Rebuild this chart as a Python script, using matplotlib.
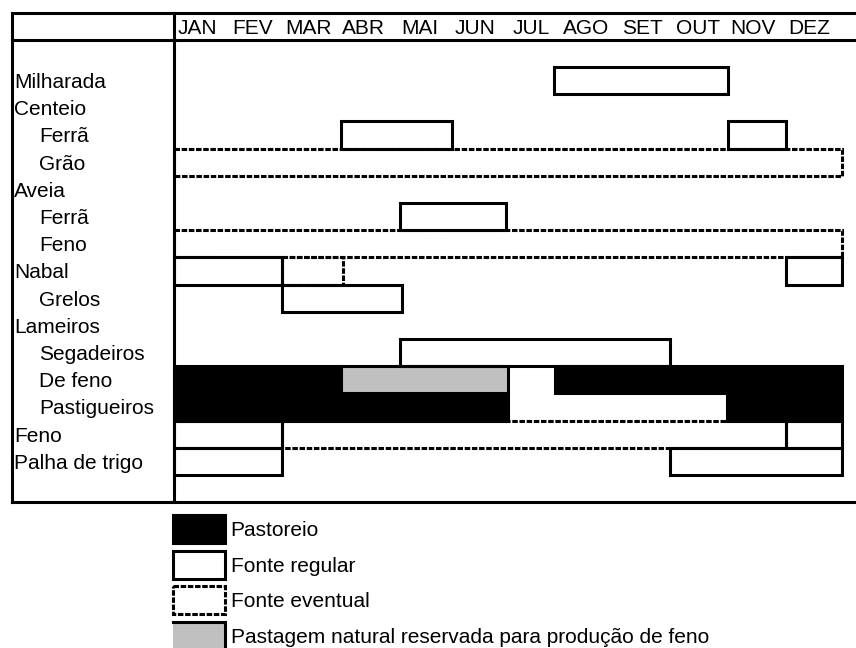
import matplotlib.pyplot as plt
from matplotlib.patches import Rectangle

plt.rcParams['font.family'] = ['Liberation Sans', 'DejaVu Sans']

meses = ["JAN", "FEV", "MAR", "ABR", "MAI", "JUN",
         "JUL", "AGO", "SET", "OUT", "NOV", "DEZ"]

culturas = ["Milharada", "Centeio", "Ferrã", "Grão", "Aveia", "Ferrã", "Feno",
            "Nabal", "Grelos", "Lameiros", "Segadeiros", "De feno",
            "Pastigueiros", "Feno", "Palha de trigo"]
nivel = [0, 0, 1, 1, 0, 1, 1, 0, 1, 0, 1, 1, 1, 0, 0]

# (linha, inicio, fim) em meses contados desde 1 de janeiro
fonte_regular = [(0, 6.83, 9.95), (2, 3.0, 5.0), (2, 9.95, 11.0),
                 (5, 4.07, 5.97), (7, 0.0, 1.95), (7, 11.0, 12.0),
                 (8, 1.95, 4.1), (10, 4.07, 8.92), (13, 0.0, 1.95),
                 (13, 11.0, 12.0), (14, 0.0, 1.95), (14, 8.92, 12.0)]
fonte_eventual = [(3, 0.0, 12.0), (6, 0.0, 12.0), (7, 1.95, 3.04),
                  (13, 1.95, 11.0)]
pastoreio = [(11, 0.0, 3.0), (11, 6.85, 12.0), (12, 0.0, 6.0),
             (12, 9.93, 12.0)]
reservada = [(11, 3.0, 6.0)]

legenda = ["Pastoreio", "Fonte regular", "Fonte eventual",
           "Pastagem natural reservada para produção de feno"]

# geometria da folha (pixeis)
W, H = 856, 648
X0, MES = 174, 55.64
Y0, LINHA = 67, 27.2
LW = 2.2
TRACO = (0, (1.8, 0.55))
CINZA = '#c0c0c0'

fig = plt.figure(figsize=(W / 100, H / 100), dpi=100)
ax = fig.add_axes([0, 0, 1, 1])
ax.set_xlim(-X0 / MES, (W - X0) / MES)
ax.set_ylim((H - Y0) / LINHA, -Y0 / LINHA)
ax.axis('off')

# moldura da tabela
borda = (12 - X0) / MES
xmax = ax.get_xlim()[1]
topo, fundo = -2, len(culturas) + 1
for y in (topo, -1, fundo):
    ax.plot([borda, xmax], [y, y], color='k', lw=LW, solid_capstyle='projecting')
for x in (borda, 0):
    ax.plot([x, x], [topo, fundo], color='k', lw=LW, solid_capstyle='projecting')


def caixa(linha, a, b, **kw):
    ax.add_patch(Rectangle((a, linha), b - a, 1, lw=LW, **kw))


for linha, a, b in fonte_eventual:
    caixa(linha, a, b, fill=False, ec='k', ls=TRACO, zorder=2)
for linha, a, b in pastoreio:
    caixa(linha, a, b, fc='k', ec='k', zorder=3)
for linha, a, b in reservada:
    caixa(linha, a, b, fc=CINZA, ec='k', zorder=4)
for linha, a, b in fonte_regular:
    caixa(linha, a, b, fill=False, ec='k', zorder=5)

# cabecalho dos meses
for i, m in enumerate(meses):
    ax.annotate(m, xy=(i + 0.5, -1.5), xytext=(-3.5, -5.4),
                textcoords='offset points', ha='center', va='baseline',
                fontsize=15)

# nomes das linhas
for i, (nome, n) in enumerate(zip(culturas, nivel)):
    ax.annotate(nome, xy=(borda, i + 0.5), xytext=(1.5 + 18 * n, -5.4),
                textcoords='offset points', ha='left', va='baseline',
                fontsize=15)

# legenda
estilos = [dict(fc='k', ec='k'),
           dict(fc='white', ec='k'),
           dict(fc='white', ec='k', ls=TRACO),
           dict(fc=CINZA, ec='none')]
ley, passo, alt = 16.47, 1.31, 1.03
lx0, lx1 = -0.02, 0.92
for k, (txt, est) in enumerate(zip(legenda, estilos)):
    y = ley + k * passo
    ax.add_patch(Rectangle((lx0, y), lx1 - lx0, alt, lw=LW, **est))
    ax.annotate(txt, xy=(lx1, y + alt / 2), xytext=(4, -5.2),
                textcoords='offset points', ha='left', va='baseline',
                fontsize=15)

# a amostra cinzenta so tem contorno em cima e a direita
y = ley + 3 * passo
ax.plot([lx0, lx1, lx1], [y, y, y + alt], color='k', lw=LW,
        solid_joinstyle='miter')

fig.savefig('out.png', dpi=100)
